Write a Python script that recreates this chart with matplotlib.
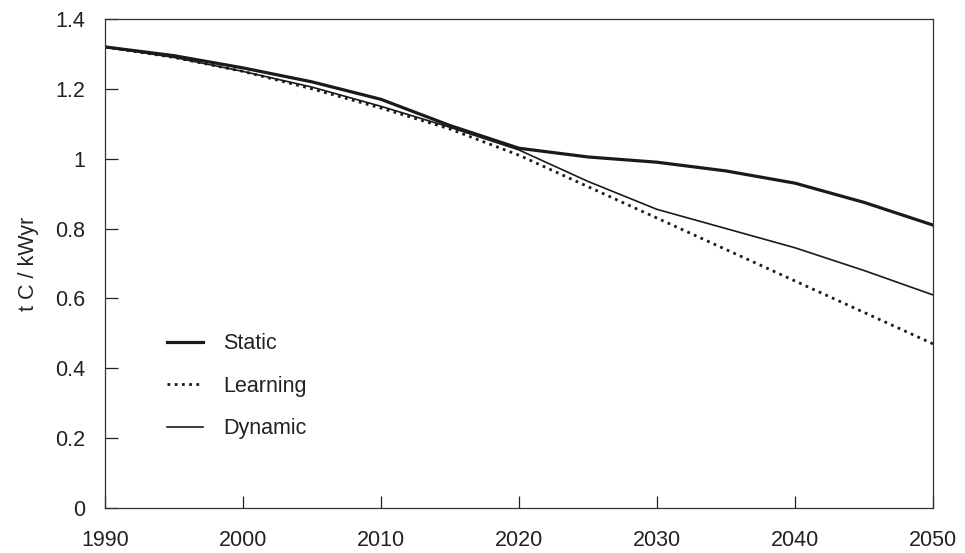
import matplotlib
matplotlib.use("Agg")
import matplotlib.pyplot as plt

plt.rcParams['font.family'] = ['Liberation Sans', 'DejaVu Sans']

years = [1990, 1995, 2000, 2005, 2010, 2015, 2020, 2025, 2030, 2035, 2040, 2045, 2050]
static = [1.32, 1.295, 1.26, 1.22, 1.17, 1.095, 1.03, 1.005, 0.99, 0.965, 0.93, 0.875, 0.81]
learning = [1.32, 1.29, 1.25, 1.20, 1.145, 1.085, 1.01, 0.92, 0.83, 0.74, 0.65, 0.56, 0.47]
dynamic = [1.32, 1.29, 1.25, 1.205, 1.15, 1.09, 1.025, 0.935, 0.855, 0.80, 0.745, 0.68, 0.61]

xticks = [1990, 2000, 2010, 2020, 2030, 2040, 2050]
yticks = [0, 0.2, 0.4, 0.6, 0.8, 1.0, 1.2, 1.4]
ylabels = ['0', '0.2', '0.4', '0.6', '0.8', '1', '1.2', '1.4']

fig = plt.figure(figsize=(9.65, 5.53), dpi=100)
ax = fig.add_axes([105 / 965, 1 - 508 / 553, (933 - 105) / 965, (508 - 19) / 553])

ax.plot(years, static, color='#1a1a1a', lw=2.3, label='Static')
ax.plot(years, learning, color='#1a1a1a', lw=2.0, ls=(0, (1, 1.6)), label='Learning')
ax.plot(years, dynamic, color='#1a1a1a', lw=1.2, label='Dynamic')

ax.set_xlim(1990, 2050)
ax.set_ylim(0, 1.4)
ax.set_xticks(xticks)
ax.set_yticks(yticks)
ax.set_yticklabels(ylabels)
ax.tick_params(direction='in', length=9, width=0.9, labelsize=15.5, colors='#222222', pad=14)
ax.tick_params(axis='x', pad=16)
for s in ax.spines.values():
    s.set_linewidth(0.9)
    s.set_color('#333333')
ax.set_ylabel('t C / kWyr', fontsize=15.5, color='#222222', labelpad=12)

leg = ax.legend(loc='lower left', bbox_to_anchor=(0.052, 0.101), frameon=False, fontsize=15.5,
                handlelength=1.65, handletextpad=0.95, labelspacing=1.0)
for t in leg.get_texts():
    t.set_color('#222222')

fig.savefig('out.png', dpi=100)
